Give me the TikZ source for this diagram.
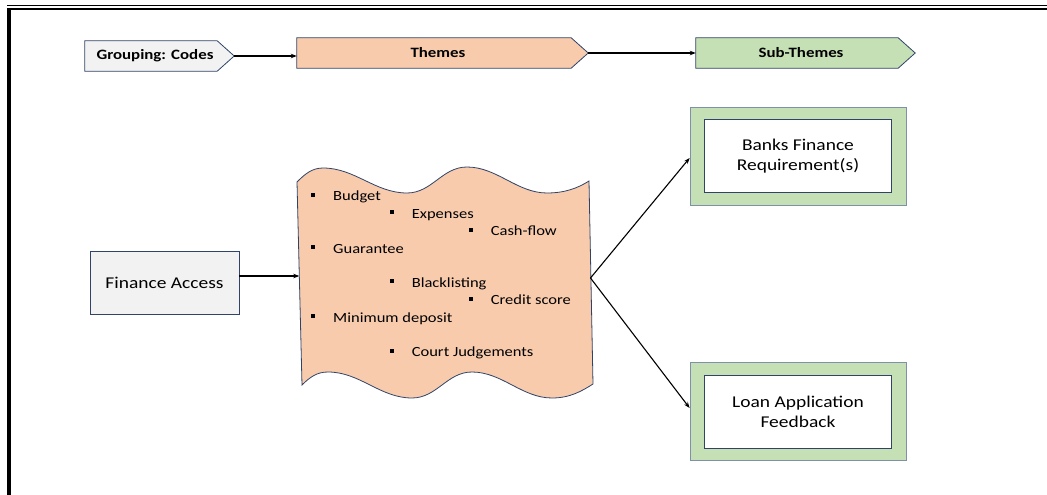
\documentclass[tikz,border=0pt]{standalone}
\usepackage{fontspec}
\setmainfont{Carlito}[FakeStretch=1.18]
\usetikzlibrary{arrows.meta,backgrounds}
\definecolor{navy}{HTML}{2F4468}
\definecolor{peach}{HTML}{F8CBAD}
\definecolor{mint}{HTML}{C5E0B4}
\definecolor{paper}{HTML}{F2F2F2}
\definecolor{slate}{HTML}{7F90AA}
% small square bullet followed by the gap to the item text
\newcommand\bul{\makebox[22.3pt][l]{\rule[4.1pt]{4pt}{4pt}}}
% pentagon tag drawn behind a header node: #1 node name, #2 fill colour
\newcommand\tagshape[2]{%
  \begin{scope}[on background layer]
    \draw[navy, line width=0.8pt, fill=#2]
      (#1.north west) -- (#1.north east) -- ([xshift=17pt]#1.east) coordinate (#1tip)
      -- (#1.south east) -- (#1.south west) -- cycle;
  \end{scope}}
\begin{document}
\begin{tikzpicture}[x=1pt,y=-1pt,
  conn/.style={line width=1.1pt, -{Stealth[length=6pt,width=4.5pt]}},
  hdr/.style={font=\fontsize{14.3}{17}\selectfont\bfseries, inner sep=0pt, minimum height=30pt},
  greybox/.style={draw=navy, line width=0.8pt, fill=paper, inner sep=0pt,
    font=\fontsize{16.5}{20}\selectfont},
  outerg/.style={draw=slate, line width=0.8pt, fill=mint, inner sep=0pt,
    minimum width=216pt, minimum height=98pt},
  innerw/.style={draw=navy, line width=0.8pt, fill=white, inner sep=0pt, align=center,
    minimum width=187pt, minimum height=73pt, font=\fontsize{16.5}{20}\selectfont},
  item/.style={anchor=base west, inner sep=0pt, font=\fontsize{14}{17}\selectfont}]
\useasboundingbox (0,0) rectangle (1047,495);

% page frame: double rule on top, heavy rule on the left
\draw[line width=1.5pt] (7,5.3) -- (1047,5.3);
\draw[line width=2.2pt] (7,9) -- (1047,9);
\draw[line width=4pt] (9,8) -- (9,495);

% header row
\node[hdr, minimum width=132pt] (grp) at (151,56) {\hspace*{8pt}Grouping: Codes};
\tagshape{grp}{paper}
\node[hdr, minimum width=274pt] (thm) at (434,53) {\hspace*{8pt}Themes};
\tagshape{thm}{peach}
\node[hdr, minimum width=202pt] (sub) at (797,53) {\hspace*{8pt}Sub-Themes};
\tagshape{sub}{mint}
\draw[conn] (grptip) -- (thm.west |- grptip);
\draw[conn] (thmtip) -- (sub.west);

% code box
\node[greybox, minimum width=149pt, minimum height=63pt] (fa) at (164.5,282.5) {Finance Access};

% wavy theme banner
\path[fill=peach, draw=navy, line width=0.8pt]
  (297,182) .. controls (305,174) and (312,168) .. (323,168)
  .. controls (355,168) and (375,193) .. (407,193)
  .. controls (432,193) and (442,167) .. (467,167)
  .. controls (497,167) and (517,193) .. (547,193)
  .. controls (565,193) and (578,188) .. (589,181)
  -- (593,384)
  .. controls (582,391) and (570,398) .. (552,398)
  .. controls (522,398) and (502,372) .. (472,372)
  .. controls (447,372) and (437,398) .. (412,398)
  .. controls (380,398) and (360,372) .. (328,372)
  .. controls (317,372) and (310,377) .. (302,385)
  -- cycle;
\coordinate (wl) at (299.3,276);
\coordinate (wr) at (590.5,278);

\node[item] (i1) at (310.7,200.7) {\bul Budget};
\node[item] (i2) at (389.3,218.0) {\bul Expenses};
\node[item] (i3) at (468.3,235.6) {\bul Cash-flow};
\node[item] (i4) at (310.7,253.0) {\bul Guarantee};
\node[item] (i5) at (389.3,287.0) {\bul Blacklisting};
\node[item] (i6) at (468.3,304.6) {\bul Credit score};
\node[item] (i7) at (310.7,322.0) {\bul Minimum deposit};
\node[item] (i8) at (389.3,356.7) {\bul Court Judgements};

% sub-theme boxes
\node[outerg] (banks) at (798,156) {};
\node[innerw] (banksin) at (banks.center) {Banks Finance\\Requirement(s)};
\node[outerg] (loan) at (798,411.5) {};
\node[innerw] (loanin) at (loan.center) {Loan Application\\Feedback};

% connectors
\draw[conn] (fa.east |- wl) -- (wl);
\draw[conn] (wr) -- ([yshift=-2pt]banks.west);
\draw[conn] (wr) -- ([yshift=3.5pt]loan.west);
\end{tikzpicture}
\end{document}
